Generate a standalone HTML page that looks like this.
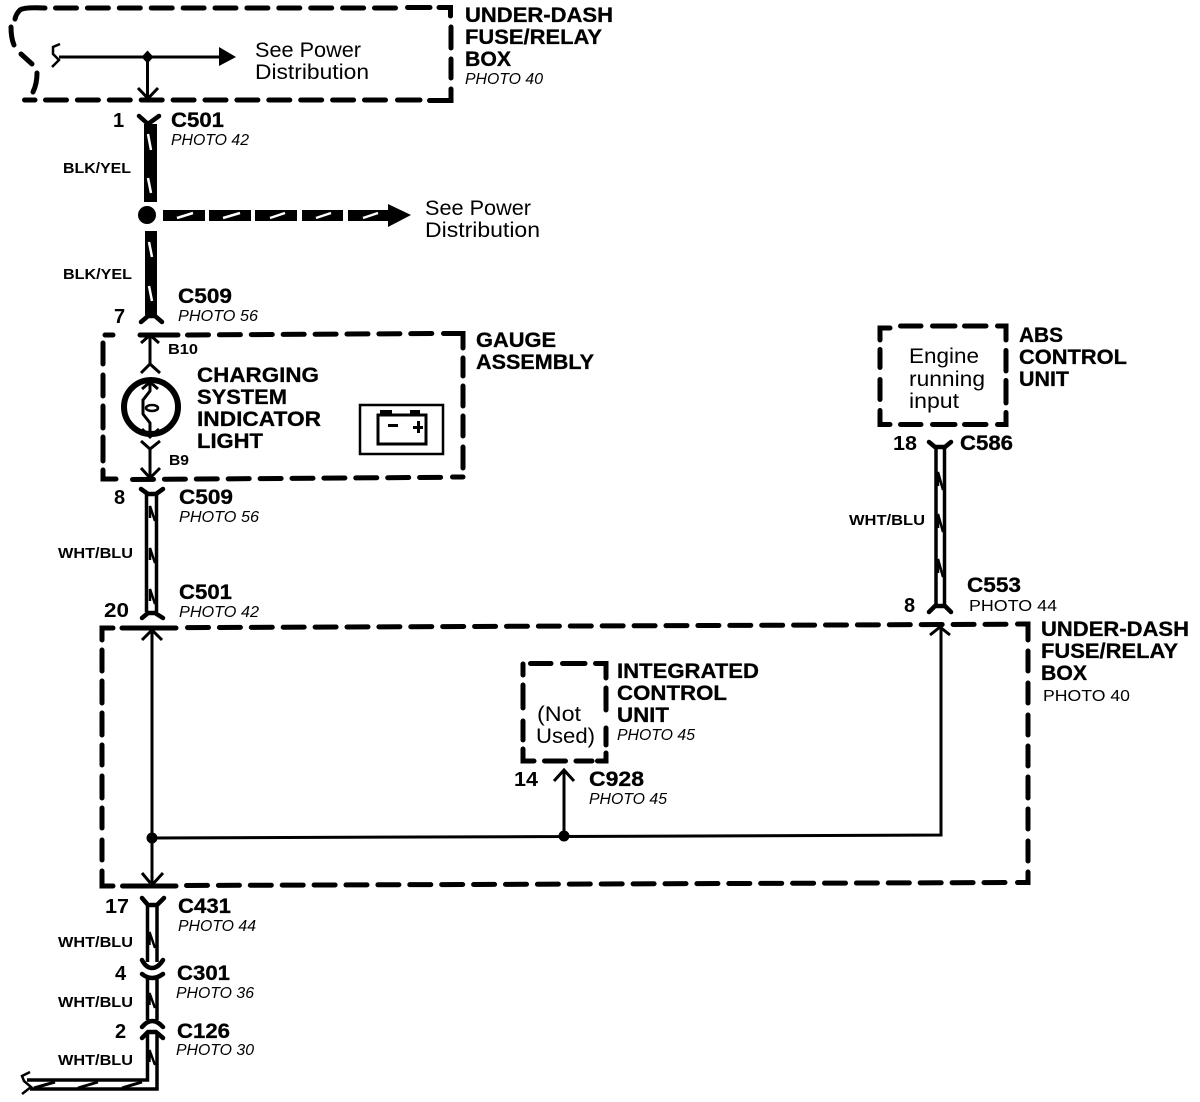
<!DOCTYPE html>
<html><head><meta charset="utf-8"><style>
html,body{margin:0;padding:0;background:#fff}
svg{display:block}
text{font-family:"Liberation Sans",sans-serif;fill:#000}
.b{font-weight:bold;font-size:21.5px;stroke:#000;stroke-width:.3px}
.s{font-weight:bold;font-size:14.5px}
.n{font-weight:bold;font-size:20px}
.i{font-style:italic;font-size:15.8px}
.r{font-size:21.5px}
.d{fill:none;stroke:#000;stroke-width:5;stroke-linecap:round;stroke-linejoin:miter}
.a{stroke-dasharray:21 10.9}
.l{fill:none;stroke:#000;stroke-width:3}
.t{fill:none;stroke:#000;stroke-width:3.5}
.m{fill:none;stroke:#000;stroke-width:2.5}
.c{fill:none;stroke:#000;stroke-width:4.5;stroke-linecap:round;stroke-linejoin:round}
.w{fill:none;stroke:#fff;stroke-width:2.5}
</style></head><body>
<svg width="1200" height="1102" viewBox="0 0 1200 1102" xmlns="http://www.w3.org/2000/svg">
<rect width="1200" height="1102" fill="#fff"/>
<!-- top box -->
<path class="d a" d="M55.5 8H405"/>
<path class="d" d="M407.5 7.5H430M439 7.5H450.5V16M451 27V48M451 59V78M451 89V100.5H429.5M420 100H397.5"/>
<path class="d a" d="M45.5 100H395"/>
<path class="d" d="M24.5 100H35M45 8Q24 7 20 10Q16 14 15 19M11 27Q11 38 14 45M21 54L32 64M37 73Q37 84 33 92"/>
<!-- gauge box -->
<path class="d" d="M105 335H113M140 335H178"/>
<path class="d a" d="M187.5 335L441 333.5"/>
<path class="d" d="M443.5 333.5H463V348M463 358V376M463 386V406M463 416V436M463 447V468M463 477H452.5"/>
<path class="d" d="M103 343V364M103 375V396M103 406V428M103 437V461M103 470V479H116"/>
<path class="d a" d="M132.5 479.5L445 477.3"/>
<!-- lower box -->
<path class="d" d="M102 640V628H113M122 628H176"/>
<path class="d a" d="M187.5 627.6L1006 624.3"/>
<path class="d" d="M1017.5 624H1028V640M1028 651V671M1028 683V703M1028 715V735M1028 746V766M1028 777V798M1028 809V829M1028 841V861M1028 872V882.5H1017.5"/>
<path class="d" d="M102 650V671M102 681V703M102 713V735M102 745V765M102 776V798M102 808V828M102 840V860M102 871V886H113M122.5 886H176"/>
<path class="d a" d="M186.5 885.5L1006 882.5"/>
<!-- ICU box -->
<path class="d" d="M523 664V675M530.5 663.5H551M562.5 663.5H585M595.5 663.5H606V678M606 688V710M606 728V745M606 753V761H597.5M576 761H592M544.5 761H565.5M534 761H523V749M523 685V708M523 721V740"/>
<!-- ABS box -->
<path class="d" d="M880 340V328H890M900.5 326H921M932.5 326H955M964.5 326H986M997.5 326H1006V340M1006 350.5V371M1006 380.5V403M1006 412.5V424.5H997.5M986 424.5H964.5M955 424.5H932.5M921 424.5H900.5M890 424.5H880V410.5M880 399.5V379.5M880 367.5V349.5"/>
<!-- top fuse wire -->
<path class="l" d="M59 57H222M147.5 57V99M138 88L148 98.5L158 88"/>
<path d="M219 47L236 57L219 66Z"/>
<path class="m" d="M60 44L53 47V54L59 60L52 67"/>
<path d="M147.5 50.500L153.500 57L147.500 63.500L141.500 57Z"/>
<!-- BLK/YEL -->
<path class="c" d="M139 116L148 124L159 116"/>
<rect x="144" y="124" width="13" height="78"/>
<path class="w" d="M148 134L151 150M148 178L151 193"/>
<circle cx="147" cy="215" r="9"/>
<path d="M163 210h42v11h-42zM209 210h42v11h-42zM255 210h42v11h-42zM302 210h41v11h-41zM348 210h42v11h-42zM388 204L411 215L388 227Z"/>
<path class="w" d="M177 218L193 213M223 218L240 213M270 218L285 213M316 218L331 213M363 218L378 213"/>
<rect x="145" y="231" width="12" height="84"/>
<path class="w" d="M149 242L152 257M149 286L152 301"/>
<path class="c" d="M141 322L148 316L155 316L162 322"/>
<!-- gauge -->
<path class="l" d="M150 335V365M141 343L150 335L159 343M141 373L150 364L160 373"/>
<circle cx="151" cy="407" r="27" fill="none" stroke="#000" stroke-width="6"/>
<path class="l" d="M150 382V391L143 400V414L150 423V436M142 389L150 382L158 389M142 429L150 437L159 429"/>
<ellipse cx="152" cy="408" rx="6" ry="3" fill="none" stroke="#000" stroke-width="2.500"/>
<path class="l" d="M141 441L150 449L160 441M150 449V478M141 468L150 478L160 468"/>
<rect x="360" y="405" width="83" height="49" fill="none" stroke="#000" stroke-width="2.500"/>
<rect x="378" y="415" width="48" height="29" fill="none" stroke="#000" stroke-width="3"/>
<path d="M380 410h12v5h-12zM410 410h10v5h-10zM388 424h10v3h-10zM413 426h10v3h-10zM417 421h3v12h-3z"/>
<!-- WHT/BLU upper -->
<path class="c" d="M141 489L148 494H156L163 489"/>
<path class="t" d="M146.500 494V612M156.500 494V612"/>
<path class="m" d="M150 518V506L155 521M150 560V548L155 563M150 601V589L155 604"/>
<path class="c" d="M142 618L148 613H155L163 618"/>
<!-- lower box internals -->
<path class="l" d="M152 630V885M142 640L152 630L162 640M142 873L152 885L163 873"/>
<path class="l" d="M152 838L564 836.500L941 835V627M930 635L940 627L950 635M564 836V770M554 781L564 770L574 781"/>
<circle cx="152" cy="838" r="5.500"/><circle cx="564" cy="836" r="5.500"/>
<!-- right wire -->
<path class="c" d="M929 442L935 447H945L951 442"/>
<path class="t" d="M936 447V606M944.500 447V606"/>
<path class="m" d="M938 486V472L943 490M938 528V514L943 532M938 573V559L943 577"/>
<path class="c" d="M929 612L935 606H945L951 612"/>
<!-- bottom wires -->
<path class="c" d="M142 898L148 905H157L164 898"/>
<path class="t" d="M147.500 905V962M157 905V962"/>
<path class="m" d="M149.500 945V932L155 948"/>
<path class="c" d="M142 960Q146 968 152 968Q158 968 163 960"/>
<path class="c" d="M142 974Q152 982 163 974"/>
<path class="t" d="M147.500 979V1020M157 979V1020"/>
<path class="m" d="M149.500 1005V993L155 1008"/>
<path class="c" d="M142 1027Q152 1015 163 1027"/>
<path class="c" d="M142 1038L148 1032H156L163 1038"/>
<path class="t" d="M147.500 1032V1080H27M157 1032V1089H30"/>
<path class="m" d="M149.500 1062V1050L155 1065"/>
<path class="m" d="M30 1072L22 1076L24 1081L31 1087L22 1094"/>
<path class="l" d="M34 1088L55 1082M78 1088L98 1082M122 1088L142 1082"/>
<!-- labels -->
<text class="b" x="465" y="22" textLength="148" lengthAdjust="spacingAndGlyphs">UNDER-DASH</text>
<text class="b" x="465" y="44" textLength="137" lengthAdjust="spacingAndGlyphs">FUSE/RELAY</text>
<text class="b" x="465" y="66" textLength="46" lengthAdjust="spacingAndGlyphs">BOX</text>
<text class="i" x="465" y="84" textLength="78" lengthAdjust="spacingAndGlyphs">PHOTO 40</text>
<text class="r" x="255" y="57" textLength="106" lengthAdjust="spacingAndGlyphs">See Power</text>
<text class="r" x="255" y="79" textLength="114" lengthAdjust="spacingAndGlyphs">Distribution</text>
<text class="n" x="113" y="127">1</text>
<text class="b" x="171" y="127" textLength="53" lengthAdjust="spacingAndGlyphs">C501</text>
<text class="i" x="171" y="145" textLength="78" lengthAdjust="spacingAndGlyphs">PHOTO 42</text>
<text class="s" x="63" y="173" textLength="68" lengthAdjust="spacingAndGlyphs">BLK/YEL</text>
<text class="r" x="425" y="215" textLength="106" lengthAdjust="spacingAndGlyphs">See Power</text>
<text class="r" x="425" y="237" textLength="115" lengthAdjust="spacingAndGlyphs">Distribution</text>
<text class="s" x="63" y="279" textLength="69" lengthAdjust="spacingAndGlyphs">BLK/YEL</text>
<text class="b" x="178" y="303" textLength="54" lengthAdjust="spacingAndGlyphs">C509</text>
<text class="i" x="178" y="321" textLength="80" lengthAdjust="spacingAndGlyphs">PHOTO 56</text>
<text class="n" x="114" y="323">7</text>
<text class="s" x="168" y="354" textLength="30" lengthAdjust="spacingAndGlyphs">B10</text>
<text class="b" x="476" y="347" textLength="80" lengthAdjust="spacingAndGlyphs">GAUGE</text>
<text class="b" x="476" y="369" textLength="118" lengthAdjust="spacingAndGlyphs">ASSEMBLY</text>
<text class="b" x="197" y="382" textLength="122" lengthAdjust="spacingAndGlyphs">CHARGING</text>
<text class="b" x="197" y="404" textLength="90" lengthAdjust="spacingAndGlyphs">SYSTEM</text>
<text class="b" x="197" y="426" textLength="124" lengthAdjust="spacingAndGlyphs">INDICATOR</text>
<text class="b" x="197" y="448" textLength="66" lengthAdjust="spacingAndGlyphs">LIGHT</text>
<text class="s" x="169" y="465" textLength="20" lengthAdjust="spacingAndGlyphs">B9</text>
<text class="n" x="114" y="504">8</text>
<text class="b" x="179" y="504" textLength="54" lengthAdjust="spacingAndGlyphs">C509</text>
<text class="i" x="179" y="522" textLength="80" lengthAdjust="spacingAndGlyphs">PHOTO 56</text>
<text class="s" x="58" y="558" textLength="75" lengthAdjust="spacingAndGlyphs">WHT/BLU</text>
<text class="b" x="179" y="599" textLength="53" lengthAdjust="spacingAndGlyphs">C501</text>
<text class="i" x="179" y="617" textLength="80" lengthAdjust="spacingAndGlyphs">PHOTO 42</text>
<text class="n" x="104" y="617" textLength="25" lengthAdjust="spacingAndGlyphs">20</text>
<text class="b" x="967" y="592" textLength="54" lengthAdjust="spacingAndGlyphs">C553</text>
<text x="969" y="611" font-size="16" textLength="88" lengthAdjust="spacingAndGlyphs">PHOTO 44</text>
<text class="n" x="904" y="612">8</text>
<text class="n" x="893" y="450" textLength="24" lengthAdjust="spacingAndGlyphs">18</text>
<text class="b" x="960" y="450" textLength="53" lengthAdjust="spacingAndGlyphs">C586</text>
<text class="b" x="1019" y="342" textLength="44" lengthAdjust="spacingAndGlyphs">ABS</text>
<text class="b" x="1019" y="364" textLength="108" lengthAdjust="spacingAndGlyphs">CONTROL</text>
<text class="b" x="1019" y="386" textLength="50" lengthAdjust="spacingAndGlyphs">UNIT</text>
<text class="r" x="909" y="363" textLength="70" lengthAdjust="spacingAndGlyphs">Engine</text>
<text class="r" x="909" y="386" textLength="76" lengthAdjust="spacingAndGlyphs">running</text>
<text class="r" x="909" y="408" textLength="50" lengthAdjust="spacingAndGlyphs">input</text>
<text class="s" x="849" y="525" textLength="76" lengthAdjust="spacingAndGlyphs">WHT/BLU</text>
<text class="b" x="1041" y="636" textLength="148" lengthAdjust="spacingAndGlyphs">UNDER-DASH</text>
<text class="b" x="1041" y="658" textLength="137" lengthAdjust="spacingAndGlyphs">FUSE/RELAY</text>
<text class="b" x="1041" y="680" textLength="46" lengthAdjust="spacingAndGlyphs">BOX</text>
<text x="1043" y="701" font-size="16" textLength="87" lengthAdjust="spacingAndGlyphs">PHOTO 40</text>
<text class="b" x="617" y="678" textLength="142" lengthAdjust="spacingAndGlyphs">INTEGRATED</text>
<text class="b" x="617" y="700" textLength="110" lengthAdjust="spacingAndGlyphs">CONTROL</text>
<text class="b" x="617" y="722" textLength="52" lengthAdjust="spacingAndGlyphs">UNIT</text>
<text class="i" x="617" y="740" textLength="78" lengthAdjust="spacingAndGlyphs">PHOTO 45</text>
<text class="r" x="537" y="721" textLength="44" lengthAdjust="spacingAndGlyphs">(Not</text>
<text class="r" x="536" y="743" textLength="59" lengthAdjust="spacingAndGlyphs">Used)</text>
<text class="n" x="514" y="786" textLength="24" lengthAdjust="spacingAndGlyphs">14</text>
<text class="b" x="589" y="786" textLength="55" lengthAdjust="spacingAndGlyphs">C928</text>
<text class="i" x="589" y="804" textLength="78" lengthAdjust="spacingAndGlyphs">PHOTO 45</text>
<text class="n" x="105" y="913" textLength="24" lengthAdjust="spacingAndGlyphs">17</text>
<text class="b" x="178" y="913" textLength="53" lengthAdjust="spacingAndGlyphs">C431</text>
<text class="i" x="178" y="931" textLength="78" lengthAdjust="spacingAndGlyphs">PHOTO 44</text>
<text class="s" x="58" y="947" textLength="75" lengthAdjust="spacingAndGlyphs">WHT/BLU</text>
<text class="n" x="115" y="980">4</text>
<text class="b" x="177" y="980" textLength="53" lengthAdjust="spacingAndGlyphs">C301</text>
<text class="i" x="176" y="998" textLength="78" lengthAdjust="spacingAndGlyphs">PHOTO 36</text>
<text class="s" x="58" y="1007" textLength="75" lengthAdjust="spacingAndGlyphs">WHT/BLU</text>
<text class="n" x="115" y="1038">2</text>
<text class="b" x="177" y="1038" textLength="53" lengthAdjust="spacingAndGlyphs">C126</text>
<text class="i" x="176" y="1055" textLength="78" lengthAdjust="spacingAndGlyphs">PHOTO 30</text>
<text class="s" x="58" y="1065" textLength="75" lengthAdjust="spacingAndGlyphs">WHT/BLU</text>
</svg>
</body></html>
